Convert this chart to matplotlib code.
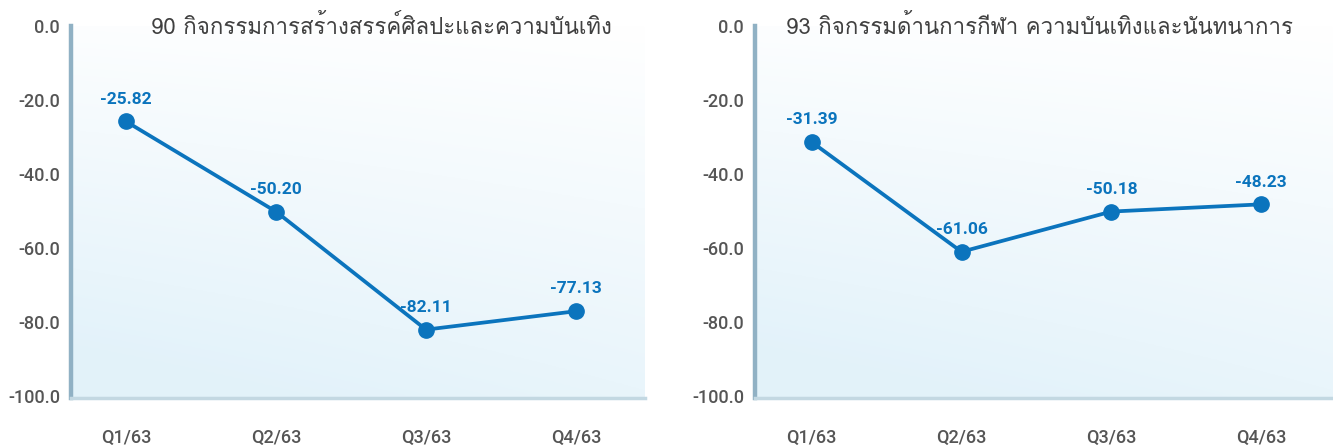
import numpy as np
import matplotlib
matplotlib.use('Agg')
import matplotlib.pyplot as plt
from matplotlib import font_manager as fm
from matplotlib.ft2font import FT2Font

# Data
quarters = ['Q1/63', 'Q2/63', 'Q3/63', 'Q4/63']
arts_values = [-25.82, -50.20, -82.11, -77.13]
sports_values = [-31.39, -61.06, -50.18, -48.23]
arts_title = '90 กิจกรรมการสร้างสรรค์ศิลปะและความบันเทิง'
sports_title = '93 กิจกรรมด้านการกีฬา ความบันเทิงและนันทนาการ'
y_ticks = [0, -20, -40, -60, -80, -100]

# Find a font that has Thai glyphs
thai_font = None
for f in fm.fontManager.ttflist:
    try:
        if 0x0E01 in FT2Font(f.fname).get_charmap():
            thai_font = f.name
            break
    except Exception:
        pass

names = {f.name for f in fm.fontManager.ttflist}
num_font = 'Roboto' if 'Roboto' in names else 'DejaVu Sans'
title_family = [thai_font, 'DejaVu Sans'] if thai_font else ['DejaVu Sans']

line_color = '#0b74bd'
tick_color = '#555555'

fig = plt.figure(figsize=(13.33, 4.45), dpi=100)

def panel(left_px, right_px, values, title, xmin, xmax, title_x):
    W, H = 1333, 445
    top, bottom = 26, 398
    ax = fig.add_axes([left_px / W, (H - bottom) / H,
                       (right_px - left_px) / W, (bottom - top) / H])
    # gradient background
    yy, xx = np.mgrid[0:1:200j, 0:1:200j]
    t = np.clip(0.8 * yy + 0.25 * (1 - xx) * yy + 0.1 * (1 - xx), 0, 1)
    c0 = np.array([1.0, 1.0, 1.0])
    c1 = np.array([0.89, 0.95, 0.98])
    img = c0 + (c1 - c0) * t[..., None]
    ax.imshow(img, extent=[0, 1, 0, 1], transform=ax.transAxes,
              aspect='auto', zorder=0, origin='upper')

    x = np.arange(len(values))
    ax.plot(x, values, color=line_color, lw=2.7, marker='o', ms=11, zorder=3)
    for xi, v in zip(x, values):
        ax.annotate(f'{v:.2f}', (xi, v), xytext=(0, 16), textcoords='offset points',
                    ha='center', va='center', color=line_color, fontsize=12.5,
                    fontweight='bold', family=num_font, zorder=4)

    ax.set_xlim(xmin, xmax)
    ax.set_ylim(-100.6, -0.2)
    ax.set_yticks(y_ticks)
    ax.set_yticklabels([f'{v:.1f}' for v in y_ticks])
    ax.set_xticks(x)
    ax.set_xticklabels(quarters)
    for lab in ax.get_xticklabels() + ax.get_yticklabels():
        lab.set_fontfamily(num_font)
        lab.set_fontweight('medium')
        lab.set_fontsize(13)
        lab.set_color(tick_color)
    ax.tick_params(axis='x', length=0, pad=22)
    ax.tick_params(axis='y', length=0, pad=8)

    for s in ['top', 'right']:
        ax.spines[s].set_visible(False)
    ax.spines['left'].set_color('#90b1c4')
    ax.spines['left'].set_linewidth(3.2)
    ax.spines['bottom'].set_color('#c3d8e2')
    ax.spines['bottom'].set_linewidth(2.5)

    fig.text(title_x / W, 1 - 27 / H, title, ha='center', va='center',
             fontsize=16, color='#404040', family=title_family)
    return ax

panel(71, 645, arts_values, arts_title, -0.367, 3.46, 381)
panel(755, 1333, sports_values, sports_title, -0.379, 3.48, 1040)

fig.savefig('out.png', dpi=100)
